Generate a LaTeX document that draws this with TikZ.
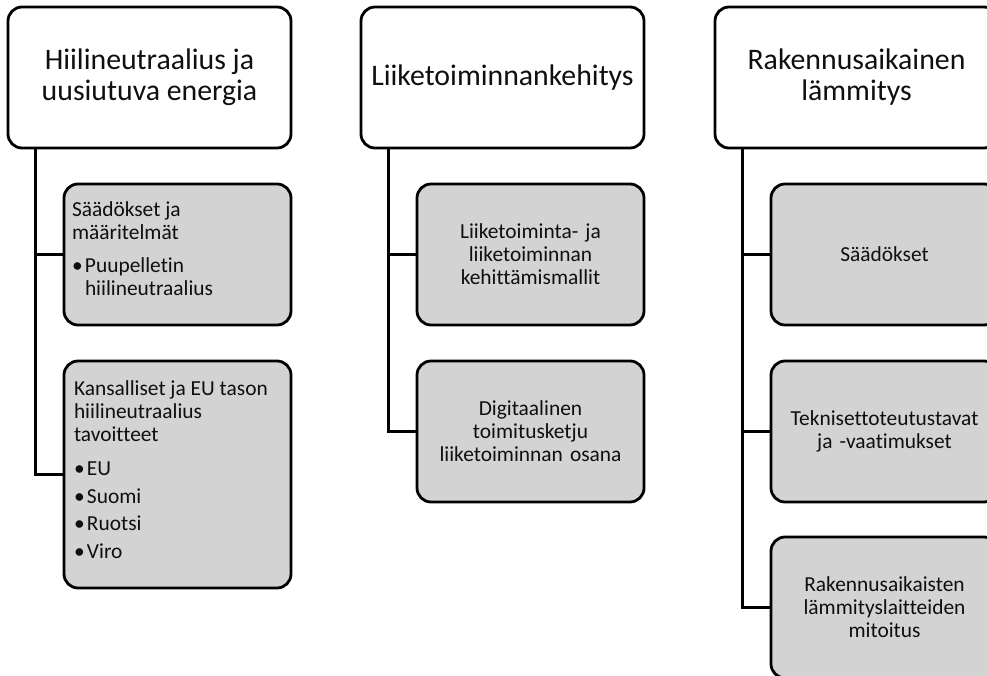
\documentclass[tikz,border=0pt]{standalone}
\usepackage{fontspec}
\setmainfont{Carlito}[Ligatures=NoCommon]
\definecolor{boxgray}{RGB}{211,211,211}
\definecolor{inkcol}{RGB}{15,15,15}
\begin{document}
\begin{tikzpicture}[x=1pt,y=-1pt,
  topbox/.style={draw=black, line width=2.8pt, rounded corners=14pt, fill=white,
    minimum width=283pt, minimum height=141pt, inner sep=0pt, align=center,
    text=inkcol, font=\fontsize{29.8}{31}\selectfont},
  subbox/.style={draw=black, line width=2.8pt, rounded corners=14pt, fill=boxgray,
    minimum width=227pt, minimum height=141pt, inner sep=0pt, align=center,
    text width=221pt, text=inkcol, font=\fontsize{21.4}{23}\selectfont},
  listbox/.style={draw=black, line width=2.8pt, rounded corners=14pt, fill=boxgray,
    inner sep=0pt, text=inkcol, font=\fontsize{21.4}{23}\selectfont},
  link/.style={draw=black, line width=2.8pt}]
\useasboundingbox (0,0) rectangle (987,676);
\clip (0,0) rectangle (987,676);

% top-level boxes
\node[topbox] (t1) at (149.5,77.5) {Hiilineutraalius ja\\uusiutuva energia};
\node[topbox] (t2) at (502.5,77.5) {Liiketoiminnankehitys};
\node[topbox] (t3) at (856.5,77.5) {Rakennusaikainen\\lämmitys};

% column 1
\node[listbox] (a1) at (177.5,254.5) {\begin{minipage}[c][141pt][t]{227pt}%
\parindent=0pt\raggedright\leftskip=8pt
\vspace*{18pt}
Säädökset ja\par
määritelmät\par
\vspace{10pt}
\makebox[13pt][l]{•}Puupelletin\par
\hspace*{13pt}hiilineutraalius\par
\end{minipage}};
\node[listbox] (a2) at (177.5,474.5) {\begin{minipage}[c][227pt][t]{227pt}%
\parindent=0pt\raggedright\leftskip=10pt
\vspace*{20pt}
Kansalliset ja EU tason\par
hiilineutraalius\par
tavoitteet\par
\vspace{11pt}
\makebox[13pt][l]{•}EU\par
\vspace{4.5pt}
\makebox[13pt][l]{•}Suomi\par
\vspace{4.5pt}
\makebox[13pt][l]{•}Ruotsi\par
\vspace{4.5pt}
\makebox[13pt][l]{•}Viro\par
\end{minipage}};

% column 2
\node[subbox] (b1) at (530.5,254.5) {Liiketoiminta- ja\\liiketoiminnan\\kehittämismallit};
\node[subbox] (b2) at (530.5,431.5) {Digitaalinen\\toimitusketju\\liiketoiminnan osana};

% column 3
\node[subbox] (c1) at (884.5,254.5) {Säädökset};
\node[subbox] (c2) at (884.5,431.5) {Teknisettoteutustavat\\ja -vaatimukset};
\node[subbox] (c3) at (884.5,607.5) {Rakennusaikaisten\\lämmityslaitteiden\\mitoitus};

% connectors
\draw[link] ([xshift=29pt]t1.south west) |- (a1.west);
\draw[link] ([xshift=29pt]t1.south west) |- (a2.west);
\draw[link] ([xshift=29pt]t2.south west) |- (b1.west);
\draw[link] ([xshift=29pt]t2.south west) |- (b2.west);
\draw[link] ([xshift=29pt]t3.south west) |- (c1.west);
\draw[link] ([xshift=29pt]t3.south west) |- (c2.west);
\draw[link] ([xshift=29pt]t3.south west) |- (c3.west);
\end{tikzpicture}
\end{document}
